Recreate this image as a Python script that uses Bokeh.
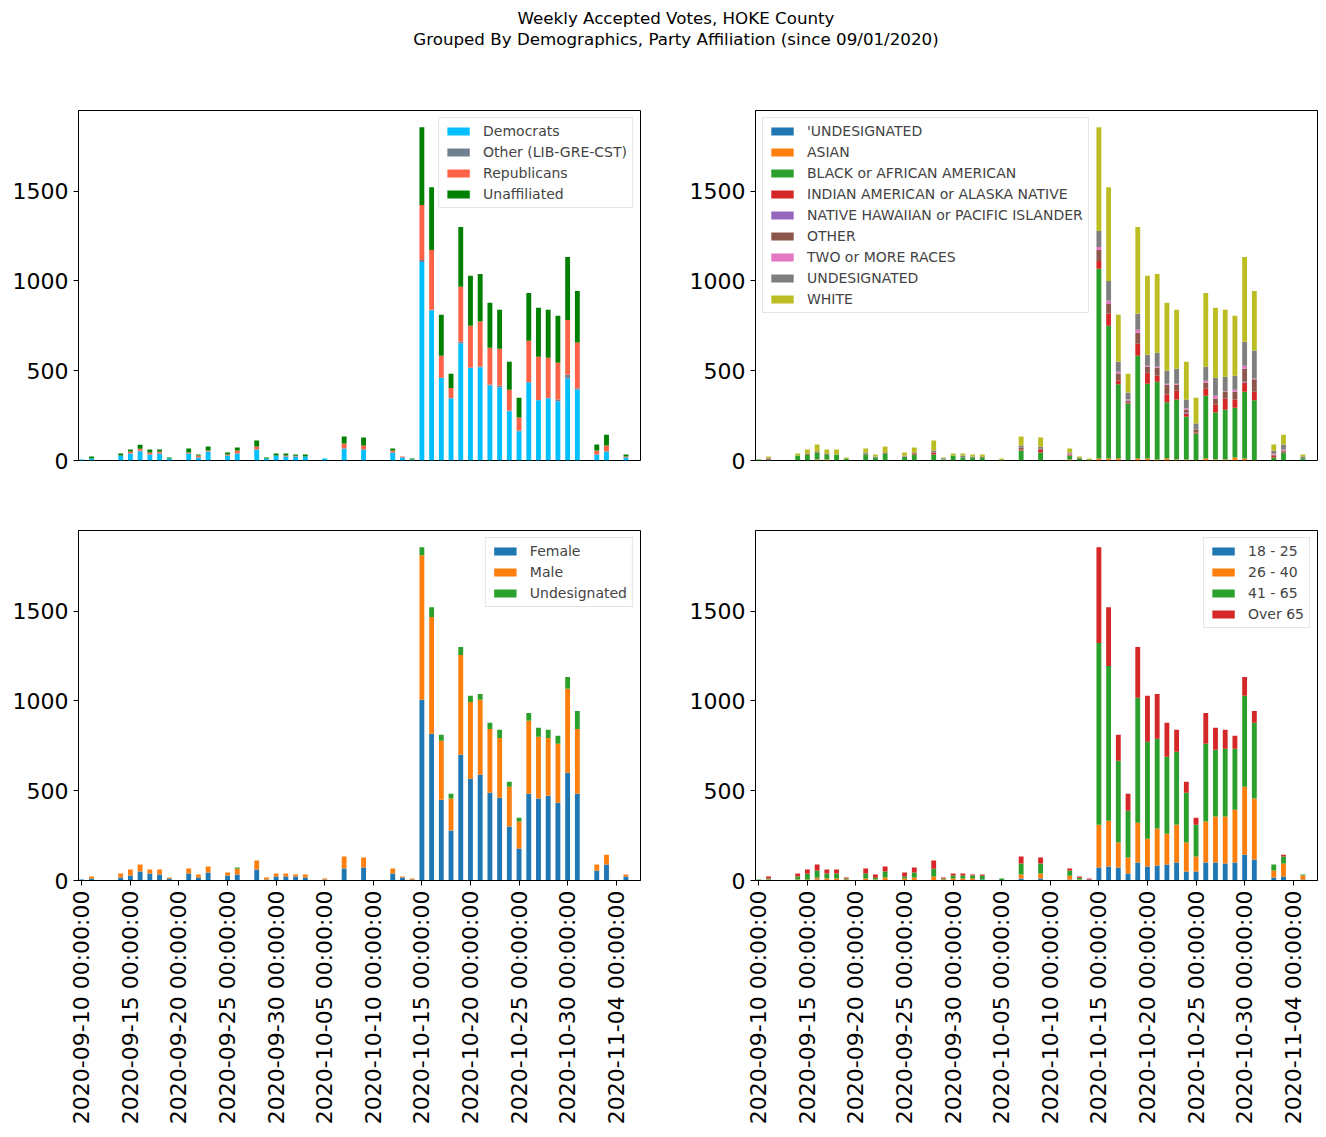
import math
import pandas as pd
from bokeh.plotting import figure
from bokeh.models import (ColumnDataSource, Range1d, FixedTicker, DatetimeTickFormatter,
                          Div, Legend)
from bokeh.layouts import column, row
from bokeh.embed import file_html
from bokeh.resources import INLINE

# ---------------- data ----------------
DATES = ["2020-09-10", "2020-09-11", "2020-09-14", "2020-09-15", "2020-09-16", "2020-09-17",
         "2020-09-18", "2020-09-19", "2020-09-21", "2020-09-22", "2020-09-23", "2020-09-25",
         "2020-09-26", "2020-09-28", "2020-09-29", "2020-09-30", "2020-10-01", "2020-10-02",
         "2020-10-03", "2020-10-05", "2020-10-07", "2020-10-09", "2020-10-12", "2020-10-13",
         "2020-10-14", "2020-10-15", "2020-10-16", "2020-10-17", "2020-10-18", "2020-10-19",
         "2020-10-20", "2020-10-21", "2020-10-22", "2020-10-23", "2020-10-24", "2020-10-25",
         "2020-10-26", "2020-10-27", "2020-10-28", "2020-10-29", "2020-10-30", "2020-10-31",
         "2020-11-02", "2020-11-03", "2020-11-05"]

TICK_DATES = ["2020-09-10", "2020-09-15", "2020-09-20", "2020-09-25", "2020-09-30",
              "2020-10-05", "2020-10-10", "2020-10-15", "2020-10-20", "2020-10-25",
              "2020-10-30", "2020-11-04"]
Y_TICKS = [0, 500, 1000, 1500]

# Party affiliation
PARTY_LABELS = ["Democrats", "Other (LIB-GRE-CST)", "Republicans", "Unaffiliated"]
democrats = [5, 11, 28, 39, 50, 33, 39, 11, 39, 17, 50, 28, 39, 61, 11, 28, 22, 22, 22, 11,
             67, 61, 44, 17, 6, 1105, 837, 459, 346, 652, 515, 519, 418, 407, 274, 163, 435,
             335, 346, 328, 457, 396, 33, 50, 17]
other_party = [0, 0, 0, 0, 5, 0, 0, 0, 0, 0, 0, 0, 0, 0, 0, 0, 0, 0, 0, 0,
               0, 0, 0, 0, 0, 12, 3, 2, 1, 11, 3, 5, 5, 10, 4, 4, 2,
               2, 2, 11, 21, 6, 0, 0, 0]
republicans = [0, 0, 0, 11, 11, 11, 11, 0, 5, 11, 6, 5, 17, 17, 0, 0, 6, 5, 0, 0,
               27, 22, 12, 5, 0, 305, 332, 122, 56, 305, 232, 250, 205, 205, 116, 72, 230,
               241, 224, 205, 305, 255, 23, 33, 5]
unaffiliated = [0, 11, 11, 11, 22, 17, 11, 6, 23, 5, 22, 11, 16, 33, 6, 11, 11, 6, 11, 0,
                39, 45, 11, 0, 5, 434, 350, 228, 80, 332, 278, 265, 250, 217, 156, 111, 266,
                272, 267, 262, 350, 287, 33, 61, 11]

# Race
RACE_LABELS = ["'UNDESIGNATED", "ASIAN", "BLACK or AFRICAN AMERICAN",
               "INDIAN AMERICAN or ALASKA NATIVE", "NATIVE HAWAIIAN or PACIFIC ISLANDER",
               "OTHER", "TWO or MORE RACES", "UNDESIGNATED", "WHITE"]
race_undesig_q = [0] * 45
race_asian = [0, 0, 0, 0, 5, 5, 0, 0, 0, 0, 0, 0, 0, 0, 0, 0, 0, 0, 0, 0,
              0, 0, 5, 0, 0, 11, 11, 11, 0, 11, 11, 6, 11, 5, 5, 3, 11,
              5, 5, 17, 11, 3, 0, 0, 0]
race_black = [5, 5, 28, 33, 39, 28, 33, 11, 33, 17, 39, 22, 33, 33, 6, 28, 17, 17, 17, 5,
              56, 44, 23, 11, 5, 1056, 739, 413, 317, 572, 417, 433, 313, 334, 239, 147, 350,
              262, 278, 277, 372, 332, 17, 44, 11]
race_indian = [0, 6, 0, 3, 0, 0, 0, 0, 0, 0, 0, 0, 6, 11, 0, 0, 0, 0, 0, 0,
               5, 17, 5, 0, 0, 44, 67, 22, 5, 67, 61, 33, 43, 50, 17, 6, 39,
               44, 61, 45, 50, 48, 11, 6, 0]
race_hawaiian = [0, 0, 0, 0, 0, 0, 0, 0, 0, 0, 0, 0, 0, 0, 0, 0, 0, 0, 0, 0,
                 0, 0, 0, 0, 0, 0, 0, 0, 0, 0, 0, 0, 0, 0, 5, 0, 0,
                 0, 0, 0, 6, 0, 0, 0, 0]
race_other = [0, 0, 0, 3, 6, 6, 0, 0, 5, 0, 5, 0, 5, 0, 0, 0, 0, 0, 5, 0,
              11, 5, 0, 5, 0, 61, 55, 39, 11, 61, 33, 45, 55, 33, 17, 16, 33,
              33, 39, 44, 72, 69, 4, 5, 0]
race_two = [0, 0, 0, 0, 0, 0, 0, 0, 0, 0, 0, 5, 0, 0, 0, 0, 0, 0, 0, 0,
            0, 0, 6, 0, 0, 17, 17, 9, 6, 17, 6, 5, 6, 6, 6, 0, 11,
            17, 3, 11, 17, 5, 5, 6, 0]
race_undesig = [0, 5, 0, 0, 0, 0, 0, 0, 6, 5, 0, 0, 0, 11, 6, 0, 11, 5, 0, 0,
                11, 11, 5, 0, 0, 89, 111, 56, 39, 89, 61, 78, 72, 83, 50, 34, 78,
                100, 81, 78, 133, 156, 17, 28, 11]
race_white = [0, 6, 11, 22, 39, 22, 28, 6, 23, 11, 34, 17, 28, 56, 5, 11, 11, 11, 11, 6,
              50, 51, 23, 6, 6, 578, 522, 261, 105, 483, 439, 439, 378, 328, 211, 144, 411,
              389, 372, 334, 472, 331, 35, 55, 11]

# Gender
GENDER_LABELS = ["Female", "Male", "Undesignated"]
female = [5, 11, 17, 28, 50, 39, 33, 11, 39, 17, 44, 28, 33, 61, 5, 22, 22, 22, 17, 5,
          67, 72, 39, 17, 5, 1006, 817, 450, 278, 700, 567, 589, 489, 461, 300, 178, 483,
          457, 472, 433, 600, 483, 56, 89, 22]
male = [0, 11, 22, 33, 39, 22, 28, 6, 28, 16, 34, 16, 33, 50, 12, 17, 17, 11, 16, 6,
        66, 56, 28, 5, 6, 805, 650, 328, 178, 556, 427, 417, 355, 333, 222, 150, 406,
        343, 322, 328, 467, 361, 33, 55, 11]
gender_undesig = [0, 0, 0, 0, 0, 0, 0, 0, 0, 0, 0, 0, 6, 0, 0, 0, 0, 0, 0, 0,
                  0, 0, 0, 0, 0, 45, 55, 33, 27, 44, 34, 33, 34, 45, 28, 22, 44,
                  50, 45, 45, 66, 100, 0, 0, 0]

# Age
AGE_LABELS = ["18 - 25", "26 - 40", "41 - 65", "Over 65"]
age_18_25 = [0, 0, 0, 0, 5, 3, 0, 0, 0, 0, 3, 0, 0, 0, 0, 0, 0, 0, 5, 0,
             11, 11, 5, 0, 5, 72, 78, 72, 39, 100, 78, 83, 89, 100, 50, 50, 100,
             100, 94, 100, 144, 117, 17, 22, 6]
age_26_40 = [0, 5, 5, 5, 11, 8, 11, 5, 11, 5, 14, 11, 17, 22, 5, 11, 11, 11, 0, 0,
             22, 28, 22, 5, 0, 239, 255, 139, 89, 222, 155, 206, 172, 211, 161, 83, 228,
             256, 262, 294, 378, 339, 39, 72, 22]
age_41_65 = [5, 6, 17, 33, 39, 28, 28, 6, 28, 11, 33, 11, 28, 44, 6, 17, 17, 17, 22, 11,
             61, 56, 28, 11, 0, 1011, 861, 456, 261, 695, 539, 500, 428, 406, 278, 178, 433,
             372, 377, 339, 506, 422, 33, 39, 5]
age_over_65 = [0, 11, 17, 23, 34, 22, 22, 6, 28, 17, 28, 22, 27, 45, 6, 11, 11, 5, 6, 0,
               39, 33, 12, 6, 6, 534, 328, 144, 94, 283, 256, 250, 189, 122, 61, 39, 172,
               122, 106, 73, 105, 66, 0, 11, 0]

PARTY_COLORS = ["#00bfff", "#708090", "#ff6347", "#008000"]
TAB10 = ["#1f77b4", "#ff7f0e", "#2ca02c", "#d62728", "#9467bd", "#8c564b", "#e377c2",
         "#7f7f7f", "#bcbd22"]

# ---------------- helpers ----------------
FONT = "DejaVu Sans"
dates = pd.to_datetime(DATES)
totals = [sum(v) for v in zip(democrats, other_party, republicans, unaffiliated)]
y_max = max(totals) * 1.05
day0 = pd.Timestamp(TICK_DATES[0])
x_start = day0 - pd.Timedelta(hours=8.2)
x_end = day0 + pd.Timedelta(days=57.5)
tick_ms = [pd.Timestamp(d).value // 10**6 for d in TICK_DATES]
BAR_W = 12 * 3600 * 1000  # half a day in ms


def make_panel(series, labels, colors, width, height, border, show_x, legend_loc):
    data = {"date": dates}
    keys = []
    for i, s in enumerate(series):
        k = f"s{i}"
        data[k] = s
        keys.append(k)
    src = ColumnDataSource(data)
    p = figure(width=width, height=height, output_backend="svg", toolbar_location=None,
               x_axis_type="datetime", x_range=Range1d(x_start, x_end),
               y_range=Range1d(0, y_max),
               min_border_left=border[0], min_border_right=border[1],
               min_border_top=border[2], min_border_bottom=border[3])
    rs = p.vbar_stack(keys, x="date", width=BAR_W, color=colors, line_color=None,
                      source=src)
    p.xgrid.visible = False
    p.ygrid.visible = False
    p.outline_line_color = "black"
    p.outline_line_width = 1
    p.background_fill_color = "white"

    p.yaxis.ticker = FixedTicker(ticks=Y_TICKS)
    p.yaxis.minor_tick_line_color = None
    p.yaxis.major_tick_in = 0
    p.yaxis.major_tick_out = 5
    p.yaxis.major_label_text_font = FONT
    p.yaxis.major_label_text_font_size = "22px"
    p.yaxis.major_label_text_color = "black"
    p.yaxis.axis_line_color = "black"
    p.yaxis.major_label_standoff = 5

    if show_x:
        p.xaxis.ticker = FixedTicker(ticks=tick_ms)
        fmt = "%Y-%m-%d %H:%M:%S"
        p.xaxis.formatter = DatetimeTickFormatter(
            milliseconds=fmt, seconds=fmt, minsec=fmt, minutes=fmt, hourmin=fmt,
            hours=fmt, days=fmt, months=fmt, years=fmt)
        p.xaxis.major_label_orientation = math.pi / 2
        p.xaxis.minor_tick_line_color = None
        p.xaxis.major_tick_in = 0
        p.xaxis.major_tick_out = 5
        p.xaxis.major_label_text_font = FONT
        p.xaxis.major_label_text_font_size = "22px"
        p.xaxis.major_label_text_color = "black"
        p.xaxis.major_label_standoff = 5
    else:
        p.xaxis.visible = False

    legend = Legend(items=[(lab, [r]) for lab, r in zip(labels, rs)],
                    location=legend_loc)
    legend.label_text_font = FONT
    legend.label_text_font_size = "14px"
    legend.label_height = 14
    legend.glyph_height = 10
    legend.glyph_width = 28
    legend.spacing = 5
    legend.padding = 5
    legend.margin = 7
    legend.label_standoff = 11
    legend.border_line_color = "#cccccc"
    legend.border_line_width = 1
    legend.background_fill_alpha = 0.8
    p.add_layout(legend)
    return p


p1 = make_panel([democrats, other_party, republicans, unaffiliated], PARTY_LABELS,
                PARTY_COLORS, 685, 420, (78, 45, 40, 30), False, "top_right")
p2 = make_panel([race_undesig_q, race_asian, race_black, race_indian, race_hawaiian,
                 race_other, race_two, race_undesig, race_white], RACE_LABELS,
                TAB10[:9], 633, 420, (70, 1, 40, 30), False, "top_left")
p3 = make_panel([female, male, gender_undesig], GENDER_LABELS, TAB10[:3],
                685, 639, (78, 45, 40, 249), True, "top_right")
p4 = make_panel([age_18_25, age_26_40, age_41_65, age_over_65], AGE_LABELS, TAB10[:4],
                633, 639, (70, 1, 40, 249), True, "top_right")

title = Div(text=("<div style=\"font-family:'DejaVu Sans';font-size:16.7px;line-height:21px;"
                  "text-align:center;box-sizing:border-box;width:1318px;"
                  "padding-left:34px;padding-top:8px;color:black;\">"
                  "Weekly Accepted Votes, HOKE County<br>"
                  "Grouped By Demographics, Party Affiliation (since 09/01/2020)</div>"),
            width=1318, height=70, margin=0)

layout = column(title, row(p1, p2), row(p3, p4))
open("out.html", "w").write(file_html(layout, INLINE))
